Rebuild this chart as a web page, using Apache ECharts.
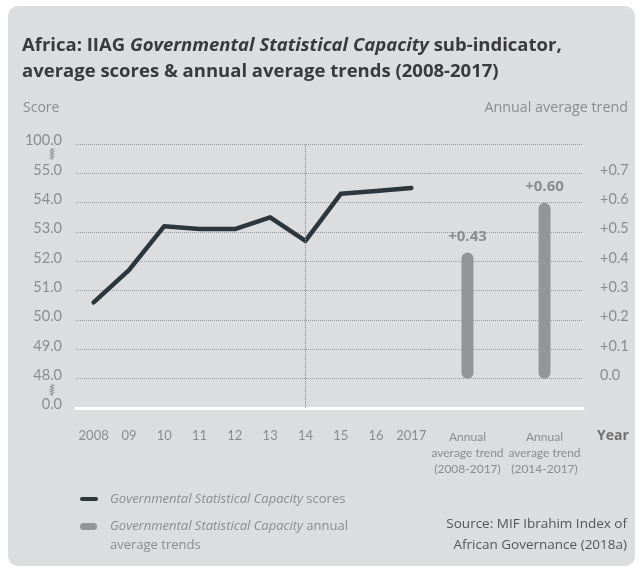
<!DOCTYPE html>
<html>
<head>
<meta charset="utf-8">
<script src="https://cdn.jsdelivr.net/npm/echarts@6/dist/echarts.min.js"></script>
<style>
  html, body { margin: 0; padding: 0; background: #fff; }
  #wrap { position: relative; width: 643px; height: 571px; }
  #panel { position: absolute; left: 8px; top: 6px; width: 627px; height: 560px; background: #dcdddf; border-radius: 10px; }
  #chart { position: absolute; left: 0; top: 0; width: 643px; height: 571px; }
</style>
</head>
<body>
<div id="wrap">
  <div id="panel"></div>
  <div id="chart"></div>
</div>
<script>
// data
const years = ["2008", "09", "10", "11", "12", "13", "14", "15", "16", "2017"];
const scores = [50.6, 51.7, 53.2, 53.1, 53.1, 53.5, 52.7, 54.3, 54.4, 54.5];
const trendCats = ["Annual\naverage trend\n(2008-2017)", "Annual\naverage trend\n(2014-2017)"];
const trends = [0.43, 0.6];
// broken score axis: 0.0 | 48..55 | 100.0
const scoreTicks = ["0.0", "48.0", "49.0", "50.0", "51.0", "52.0", "53.0", "54.0", "55.0", "100.0"];
const trendTicks = ["", "0.0", "+0.1", "+0.2", "+0.3", "+0.4", "+0.5", "+0.6", "+0.7", ""];

const FONT = "Open Sans";
const AXFONT = "Lato";
const GREY = "#8c8c8c";
const LINE = "#2b373d";
const BAR = "#939598";

// score -> position on the broken axis (48.0 sits on tick 1)
const scorePos = (v) => v - 47;

const chart = echarts.init(document.getElementById("chart"));

function breakMark(x, y) {
  const kids = [{ type: "line", shape: { x1: 0, y1: -6, x2: 0, y2: 6 }, style: { stroke: GREY, lineWidth: 1 } }];
  [-4, -1.5, 1, 3.5].forEach((d) => {
    kids.push({ type: "line", shape: { x1: -2.5, y1: d + 1, x2: 2.5, y2: d - 1 }, style: { stroke: GREY, lineWidth: 1 } });
  });
  return { type: "group", x: x, y: y, children: kids };
}

const legendText = {
  color: GREY,
  fontSize: 13,
  rich: {
    i: { fontFamily: FONT, fontStyle: "italic", fontSize: 13, color: GREY, lineHeight: 19 },
    n: { fontFamily: FONT, fontSize: 13, color: GREY, lineHeight: 19 },
  },
};

// legend icons: mark on the left, empty room on the right (text gap) and below (pill sits on first text line)
const dashIcon = "path://M2,0 L16,0 A2,2 0 0 1 16,4 L2,4 A2,2 0 0 1 2,0 Z M25,4";
const pillIcon = "path://M3.5,0 L13.5,0 A3.5,3.5 0 0 1 13.5,7 L3.5,7 A3.5,3.5 0 0 1 3.5,0 Z M25,26";

const option = {
  backgroundColor: "transparent",
  textStyle: { fontFamily: FONT },
  title: {
    left: 22,
    top: 33,
    padding: 0,
    text:
      "{b|Africa: IIAG }{bi|Governmental Statistical Capacity}{b| sub-indicator,}\n" +
      "{b|average scores & annual average trends (2008-2017)}",
    textStyle: {
      rich: {
        b: { fontFamily: FONT, fontWeight: "bold", fontSize: 18.5, color: "#3a3a3a", lineHeight: 26 },
        bi: { fontFamily: FONT, fontWeight: "bold", fontStyle: "italic", fontSize: 18.5, color: "#3a3a3a", lineHeight: 26 },
      },
    },
  },
  grid: [
    { left: 76, top: 144, width: 353, height: 264 },
    { left: 429, top: 144, width: 154, height: 264 },
  ],
  xAxis: [
    {
      type: "category",
      gridIndex: 0,
      data: years,
      axisLine: { onZero: false, lineStyle: { color: "#ffffff", width: 3 } },
      axisTick: { show: false },
      axisLabel: { interval: 0, color: GREY, fontSize: 13, margin: 21, fontFamily: AXFONT },
    },
    {
      type: "category",
      gridIndex: 1,
      data: trendCats,
      axisLine: { onZero: false, lineStyle: { color: "#ffffff", width: 3 } },
      axisTick: { show: false },
      axisLabel: { interval: 0, color: GREY, fontSize: 12, lineHeight: 16, margin: 21, fontFamily: AXFONT },
    },
  ],
  yAxis: [
    {
      type: "value",
      gridIndex: 0,
      min: 0,
      max: 9,
      interval: 1,
      axisLine: { show: false },
      axisTick: { show: false },
      axisLabel: {
        color: GREY,
        fontSize: 14.5,
        margin: 14,
        verticalAlign: "bottom",
        lineHeight: 7,
        fontFamily: AXFONT,
        formatter: (v, i) => scoreTicks[i],
      },
      splitLine: { lineStyle: { color: "#9a9a9a", type: "dotted", width: 1 } },
    },
    {
      type: "value",
      gridIndex: 1,
      position: "right",
      min: -0.1,
      max: 0.8,
      interval: 0.1,
      axisLine: { show: false },
      axisTick: { show: false },
      axisLabel: {
        color: GREY,
        fontSize: 14.5,
        margin: 17,
        verticalAlign: "bottom",
        lineHeight: 7,
        fontFamily: AXFONT,
        formatter: (v, i) => trendTicks[i],
      },
      splitLine: { lineStyle: { color: "#9a9a9a", type: "dotted", width: 1 } },
    },
  ],
  legend: [
    {
      left: 80,
      top: 492.5,
      padding: 0,
      orient: "vertical",
      itemWidth: 25,
      itemHeight: 4,
      data: [{ name: "Governmental Statistical Capacity scores", icon: dashIcon }],
      formatter: () => "{i|Governmental Statistical Capacity} {n|scores}",
      textStyle: legendText,
    },
    {
      left: 80,
      top: 520,
      padding: 0,
      orient: "vertical",
      itemWidth: 25,
      itemHeight: 26,
      data: [{ name: "Governmental Statistical Capacity annual average trends", icon: pillIcon }],
      formatter: () => "{i|Governmental Statistical Capacity} {n|annual}\n{n|average trends}",
      textStyle: legendText,
    },
  ],
  graphic: [
    { type: "text", left: 23, top: 101, style: { text: "Score", font: "14px " + FONT, fill: GREY } },
    { type: "text", right: 15, top: 101, style: { text: "Annual average trend", font: "14.3px " + FONT, fill: GREY } },
    { type: "text", x: 613, y: 436, style: { text: "Year", font: "bold 14px " + FONT, fill: "#707070", align: "center", verticalAlign: "middle" } },
    {
      type: "text",
      x: 627,
      y: 514,
      style: {
        text: "Source: MIF Ibrahim Index of\nAfrican Governance (2018a)",
        font: "13.5px " + FONT,
        lineHeight: 21,
        fill: "#555555",
        align: "right",
      },
    },
    breakMark(52, 154),
    breakMark(52, 390),
  ],
  series: [
    {
      name: "Governmental Statistical Capacity scores",
      type: "line",
      xAxisIndex: 0,
      yAxisIndex: 0,
      data: scores.map(scorePos),
      color: LINE,
      symbol: "none",
      lineStyle: { color: LINE, width: 4.5, cap: "round", join: "round" },
      markLine: {
        silent: true,
        symbol: "none",
        label: { show: false },
        lineStyle: { color: "#8a8a8a", type: "dotted", width: 1 },
        data: [{ xAxis: "14" }],
      },
      z: 3,
    },
    {
      name: "Governmental Statistical Capacity annual average trends",
      type: "bar",
      xAxisIndex: 1,
      yAxisIndex: 1,
      data: trends,
      color: BAR,
      barWidth: 12,
      itemStyle: { color: BAR, borderRadius: 6 },
      label: {
        show: true,
        position: "top",
        distance: 8,
        color: GREY,
        fontWeight: "bold",
        fontSize: 15,
        fontFamily: FONT,
        formatter: (p) => "+" + p.value.toFixed(2),
      },
    },
  ],
};

chart.setOption(option);
</script>
</body>
</html>
